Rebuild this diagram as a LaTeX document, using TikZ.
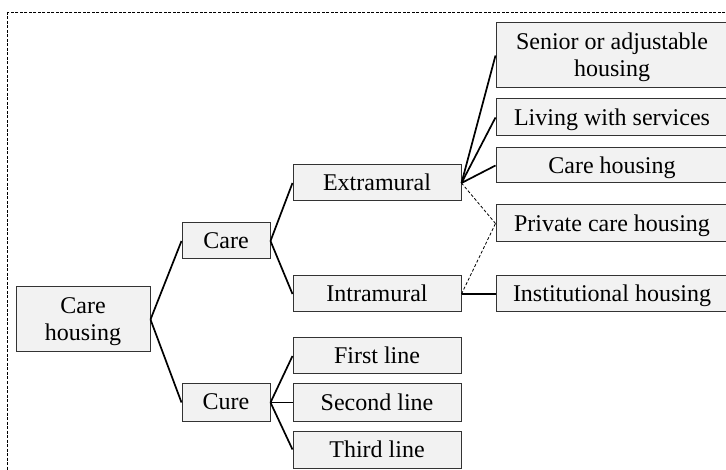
\documentclass[tikz,border=0pt]{standalone}
\usepackage{fontspec}
\setmainfont{Liberation Serif}
\definecolor{boxfill}{HTML}{F2F2F2}
\definecolor{boxline}{HTML}{333333}
\tikzset{
  box/.style={draw=boxline, fill=boxfill, line width=1pt, inner sep=0pt,
    align=center, font=\fontsize{24}{27}\selectfont, text depth=1pt},
  link/.style={line width=1.7pt, black},
  weak/.style={line width=0.8pt, black, dash pattern=on 3pt off 2pt},
}
\begin{document}
\begin{tikzpicture}[x=1pt, y=-1pt]
\useasboundingbox (0,0) rectangle (726,470);
\clip (0,0) rectangle (726,470);
% dashed outer frame
\draw[line width=0.8pt, dash pattern=on 3pt off 1.5pt] (7,12) rectangle (760,500);

% tree nodes
\node[box, minimum width=134pt, minimum height=65pt] (root) at (83,319.5) {Care\\housing};
\node[box, minimum width=88pt, minimum height=36pt] (care) at (226,241) {Care};
\node[box, minimum width=88pt, minimum height=37pt] (cure) at (226,402.5) {Cure};

\node[box, minimum width=168pt, minimum height=36pt] (extra) at (377,183) {Extramural};
\node[box, minimum width=168pt, minimum height=36pt] (intra) at (377,294) {Intramural};
\node[box, minimum width=168pt, minimum height=36pt] (first) at (377,356) {First line};
\node[box, minimum width=168pt, minimum height=37pt] (second) at (377,402.5) {Second line};
\node[box, minimum width=168pt, minimum height=37pt] (third) at (377,449.5) {Third line};

\node[box, minimum width=232pt, minimum height=65pt] (senior) at (612,55.5) {Senior or adjustable\\housing};
\node[box, minimum width=232pt, minimum height=37pt] (living) at (612,117.5) {Living with services};
\node[box, minimum width=232pt, minimum height=35pt] (carehouse) at (612,165.5) {Care housing};
\node[box, minimum width=232pt, minimum height=37pt] (private) at (612,223.5) {Private care housing};
\node[box, minimum width=232pt, minimum height=36pt] (inst) at (612,294) {Institutional housing};

% connectors
\draw[link] (root.east) -- (care.west);
\draw[link] (root.east) -- (cure.west);
\draw[link] (care.east) -- (extra.west);
\draw[link] (care.east) -- (intra.west);
\draw[link] (cure.east) -- (first.west);
\draw[link] (cure.east) -- (second.west);
\draw[link] (cure.east) -- (third.west);
\draw[link] (extra.east) -- (senior.west);
\draw[link] (extra.east) -- (living.west);
\draw[link] (extra.east) -- (carehouse.west);
\draw[weak] (extra.east) -- (private.west);
\draw[weak] (intra.east) -- (private.west);
\draw[link] (intra.east) -- (inst.west);
\end{tikzpicture}
\end{document}
